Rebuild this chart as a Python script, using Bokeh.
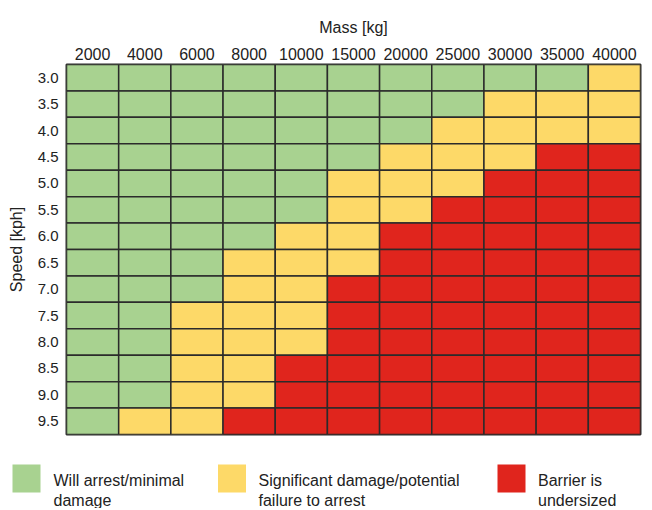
from bokeh.plotting import figure
from bokeh.models import FactorRange, Range1d, ColumnDataSource
from bokeh.embed import file_html
from bokeh.resources import INLINE
from bokeh.core.properties import value

# ---- data ----
masses = ["2000", "4000", "6000", "8000", "10000", "15000",
          "20000", "25000", "30000", "35000", "40000"]
speeds = ["3.0", "3.5", "4.0", "4.5", "5.0", "5.5", "6.0",
          "6.5", "7.0", "7.5", "8.0", "8.5", "9.0", "9.5"]
# G = will arrest, Y = significant damage, R = barrier undersized (one string per speed row)
ratings = [
    "GGGGGGGGGGY",
    "GGGGGGGGYYY",
    "GGGGGGGYYYY",
    "GGGGGGYYYRR",
    "GGGGGYYYRRR",
    "GGGGGYYRRRR",
    "GGGGYYRRRRR",
    "GGGYYYRRRRR",
    "GGGYYRRRRRR",
    "GGYYYRRRRRR",
    "GGYYYRRRRRR",
    "GGYYRRRRRRR",
    "GGYYRRRRRRR",
    "GYYRRRRRRRR",
]
legend_codes = ["G", "Y", "R"]
legend_labels = ["Will arrest/minimal\ndamage",
                 "Significant damage/potential\nfailure to arrest",
                 "Barrier is\nundersized"]

# ---- styles ----
colors = {"G": "#A8D290", "Y": "#FDD968", "R": "#E0251D"}
FONT = "Liberation Sans"
TXT = "#222222"
EDGE = "#2b2b2b"

xs, ys, cs = [], [], []
for i, s in enumerate(speeds):
    for j, m in enumerate(masses):
        xs.append(m)
        ys.append(s)
        cs.append(colors[ratings[i][j]])
src = ColumnDataSource(dict(mass=xs, speed=ys, color=cs))

p = figure(width=652, height=440,
           x_range=FactorRange(*masses),
           y_range=FactorRange(*list(reversed(speeds))),
           x_axis_location="above",
           output_backend="svg", toolbar_location=None,
           min_border_left=66, min_border_right=12,
           min_border_top=64, min_border_bottom=6)
p.rect(x="mass", y="speed", width=1, height=1, fill_color="color",
       line_color=EDGE, line_width=1.5, source=src)
p.grid.visible = False
p.outline_line_color = EDGE
p.outline_line_width = 2

for ax in (p.xaxis, p.yaxis):
    ax.axis_line_color = None
    ax.major_tick_line_color = None
    ax.minor_tick_line_color = None
    ax.major_tick_in = 0
    ax.major_tick_out = 0
    ax.major_label_text_font = FONT
    ax.major_label_text_color = TXT
    ax.axis_label_text_font = FONT
    ax.axis_label_text_color = TXT
    ax.axis_label_text_font_style = "normal"
    ax.axis_label_text_font_size = "16px"

p.xaxis.axis_label = "Mass [kg]"
p.xaxis.major_label_text_font_size = "16px"
p.xaxis.major_label_standoff = 5
p.xaxis.axis_label_standoff = 9
p.yaxis.axis_label = "Speed [kph]"
p.yaxis.major_label_text_font_size = "15px"
p.yaxis.major_label_standoff = 8
p.yaxis.axis_label_standoff = 10

# ---- legend panel (separate root so it is not frame-aligned) ----
W2, H2 = 652, 68
q = figure(width=W2, height=H2, x_range=Range1d(0, W2), y_range=Range1d(H2, 0),
           x_axis_type=None, y_axis_type=None,
           output_backend="svg", toolbar_location=None, min_border=0)
q.grid.visible = False
q.outline_line_color = None

sq_x = [26, 231.5, 511]
tx_x = [53, 258, 537.5]
q.rect(x=sq_x, y=[38, 38, 38], width=28, height=28,
       fill_color=[colors[c] for c in legend_codes], line_color=None)
line1 = [l.split("\n")[0] for l in legend_labels]
line2 = [l.split("\n")[1] for l in legend_labels]
q.text(x=tx_x, y=[40, 40, 40], text=line1, text_font=value(FONT),
       text_font_size="16px", text_color=TXT, text_baseline="alphabetic")
q.text(x=tx_x, y=[60, 60, 60], text=line2, text_font=value(FONT),
       text_font_size="16px", text_color=TXT, text_baseline="alphabetic")

open("out.html", "w").write(file_html([p, q], INLINE))
